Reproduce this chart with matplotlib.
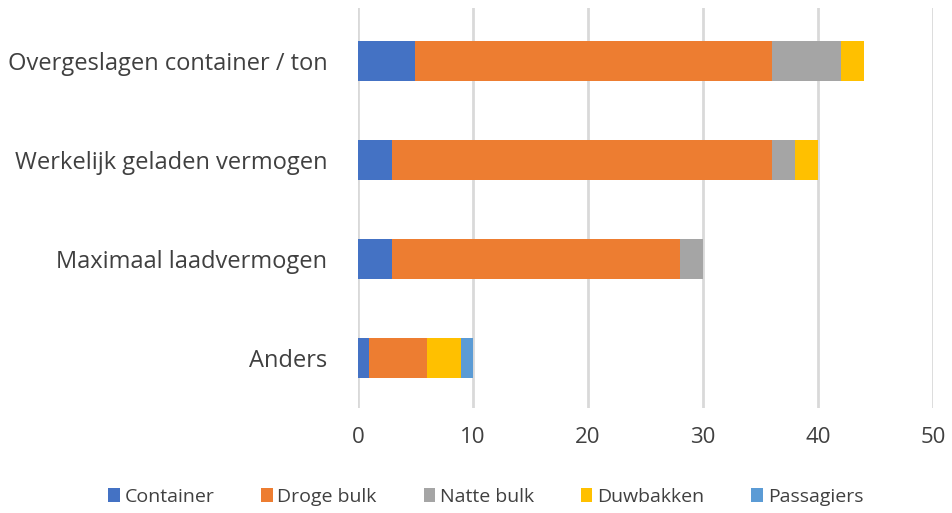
import matplotlib
matplotlib.use("Agg")
import matplotlib.pyplot as plt
import numpy as np

plt.rcParams['font.family'] = ['Open Sans', 'DejaVu Sans']

categories = ['Anders', 'Maximaal laadvermogen', 'Werkelijk geladen vermogen',
              'Overgeslagen container / ton']
series_names = ['Container', 'Droge bulk', 'Natte bulk', 'Duwbakken', 'Passagiers']
container = [1, 3, 3, 5]
droge_bulk = [5, 25, 33, 31]
natte_bulk = [0, 2, 2, 6]
duwbakken = [3, 0, 2, 2]
passagiers = [1, 0, 0, 0]
colors = ['#4472C4', '#ED7D31', '#A5A5A5', '#FFC000', '#5B9BD5']

fig = plt.figure(figsize=(9.52, 5.13), dpi=100)
ax = fig.add_axes([0.376, 0.205, 0.604, 0.779])

y = np.arange(len(categories))
left = np.zeros(len(categories))
for name, vals, col in zip(series_names,
                           [container, droge_bulk, natte_bulk, duwbakken, passagiers],
                           colors):
    ax.barh(y, vals, left=left, height=0.4, color=col, label=name, zorder=3)
    left += np.array(vals)

ax.set_xlim(0, 50)
ax.set_ylim(-0.5, 3.53)
ax.set_xticks(range(0, 51, 10))
ax.set_yticks(y)
ax.set_yticklabels(categories)
ax.grid(axis='x', color='#d9d9d9', linewidth=2, zorder=0)
for s in ax.spines.values():
    s.set_visible(False)
ax.tick_params(axis='both', length=0, labelsize=16, colors='#404040')
ax.tick_params(axis='x', pad=14)
ax.tick_params(axis='y', pad=22, labelsize=17)

ax.legend(loc='lower center', bbox_to_anchor=(0.51, -0.02), bbox_transform=fig.transFigure,
          ncol=5, frameon=False, fontsize=14, handlelength=0.6, handleheight=0.7,
          handletextpad=0.25, columnspacing=2.4, labelcolor='#404040')

fig.savefig('out.png', dpi=100)
